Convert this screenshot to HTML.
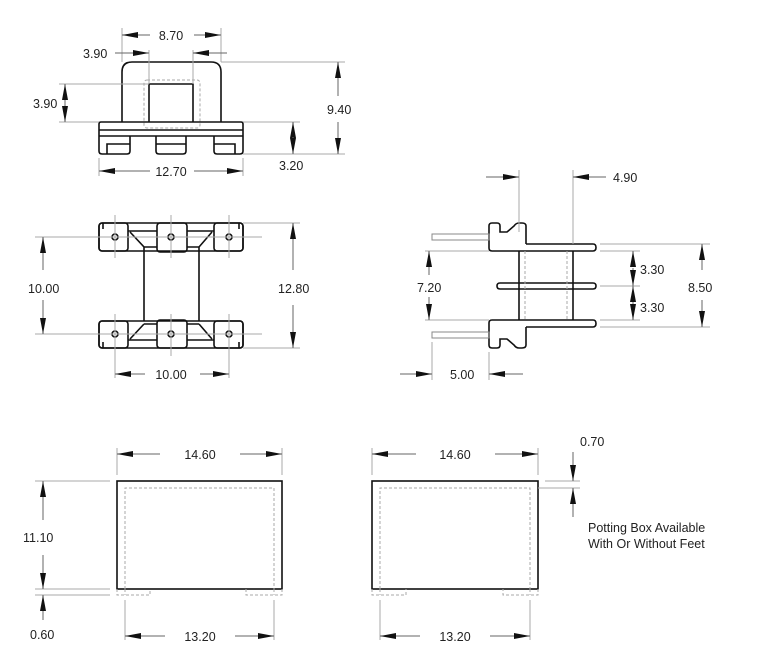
<!DOCTYPE html>
<html><head><meta charset="utf-8"><style>
html,body{margin:0;padding:0;background:#fff;}
svg{display:block;}
text{font-family:"Liberation Sans",sans-serif;font-size:12.5px;fill:#222;}
.d{stroke:#aaa;stroke-width:1;fill:none;}
.a{stroke:#666;stroke-width:1;fill:none;marker-end:url(#ar);}
.o{stroke:#111;stroke-width:1.6;fill:none;}
.h{stroke:#aaa;stroke-width:1;fill:none;stroke-dasharray:3,2;}
</style></head><body>
<svg width="780" height="663" viewBox="0 0 780 663" xmlns="http://www.w3.org/2000/svg">
<defs><marker id="ar" markerUnits="userSpaceOnUse" markerWidth="17" markerHeight="7" refX="16" refY="3" orient="auto"><path d="M0,0 L16,3 L0,6 z" fill="#111"/></marker></defs>

<!-- TOP VIEW -->
<path class="o" d="M122,122 V72 Q122,62 132,62 H211 Q221,62 221,72 V122"/>
<rect class="h" x="144" y="80" width="56" height="48" rx="3"/>
<path class="o" d="M149,122 V84 H193 V122"/>
<path class="o" d="M99,136 V124 Q99,122 101,122 H241 Q243,122 243,124 V136"/>
<line class="o" x1="99" y1="130" x2="243" y2="130"/>
<line class="o" x1="99" y1="136" x2="243" y2="136"/>
<path class="o" d="M99,136 V151 Q99,154 102,154 H127 Q130,154 130,151 V136"/>
<path class="o" d="M107,154 V144 H130"/>
<path class="o" d="M156,136 V151 Q156,154 159,154 H183 Q186,154 186,151 V136 M156,144 H186"/>
<path class="o" d="M214,136 V151 Q214,154 217,154 H240 Q243,154 243,151 V136"/>
<path class="o" d="M214,144 H235 V154"/>
<!-- dims -->
<line class="d" x1="122" y1="28" x2="122" y2="62"/><line class="d" x1="221" y1="28" x2="221" y2="62"/>
<line class="a" x1="150" y1="35" x2="122" y2="35"/><line class="a" x1="194" y1="35" x2="221" y2="35"/>
<text x="171" y="40" text-anchor="middle">8.70</text>
<line class="d" x1="149" y1="50" x2="149" y2="84"/><line class="d" x1="193" y1="50" x2="193" y2="84"/>
<line class="a" x1="115" y1="53" x2="149" y2="53"/><line class="a" x1="227" y1="53" x2="193" y2="53"/>
<text x="83" y="58">3.90</text>
<line class="d" x1="59" y1="84" x2="149" y2="84"/><line class="d" x1="59" y1="122" x2="99" y2="122"/>
<line class="a" x1="65" y1="104" x2="65" y2="84"/><line class="a" x1="65" y1="104" x2="65" y2="122"/>
<text x="33" y="108">3.90</text>
<line class="d" x1="221" y1="62" x2="345" y2="62"/><line class="d" x1="243" y1="154" x2="345" y2="154"/>
<line class="a" x1="338" y1="96" x2="338" y2="62"/><line class="a" x1="338" y1="122" x2="338" y2="154"/>
<text x="327" y="114">9.40</text>
<line class="d" x1="243" y1="122" x2="300" y2="122"/>
<line class="a" x1="293" y1="139" x2="293" y2="122"/><line class="a" x1="293" y1="137" x2="293" y2="154"/>
<text x="279" y="170">3.20</text>
<line class="d" x1="99" y1="158" x2="99" y2="176"/><line class="d" x1="243" y1="158" x2="243" y2="176"/>
<line class="a" x1="150" y1="171" x2="99" y2="171"/><line class="a" x1="194" y1="171" x2="243" y2="171"/>
<text x="171" y="176" text-anchor="middle">12.70</text>

<!-- PLAN VIEW -->
<g>
<rect class="o" x="99" y="223" width="144" height="28" rx="3"/>
<rect class="o" x="99" y="223" width="29" height="28" rx="3"/>
<rect class="o" x="157" y="223" width="30" height="29" rx="3"/>
<rect class="o" x="214" y="223" width="29" height="28" rx="3"/>
<path class="o" d="M128,231 H157 M187,231 H214 M130,232 L144,247 V321 M212,232 L199,247 V321 M144,247 H157 M187,247 H199"/>
<path class="o" d="M103,223 V229 M239,223 V229"/>
<rect class="o" x="99" y="321" width="144" height="27" rx="3"/>
<rect class="o" x="99" y="321" width="29" height="27" rx="3"/>
<rect class="o" x="157" y="320" width="30" height="28" rx="3"/>
<rect class="o" x="214" y="321" width="29" height="27" rx="3"/>
<path class="o" d="M128,340 H157 M187,340 H214 M130,339 L144,324 M212,339 L199,324 M144,324 H157 M187,324 H199"/>
<path class="o" d="M103,348 V342 M239,348 V342"/>
<circle class="o" cx="115" cy="237" r="3"/><circle class="o" cx="171" cy="237" r="3"/><circle class="o" cx="229" cy="237" r="3"/>
<circle class="o" cx="115" cy="334" r="3"/><circle class="o" cx="171" cy="334" r="3"/><circle class="o" cx="229" cy="334" r="3"/>
</g>
<g class="d">
<line x1="115" y1="215" x2="115" y2="258"/><line x1="171" y1="215" x2="171" y2="258"/><line x1="229" y1="215" x2="229" y2="258"/>
<line x1="115" y1="314" x2="115" y2="378"/><line x1="171" y1="314" x2="171" y2="356"/><line x1="229" y1="314" x2="229" y2="378"/>
<line x1="35" y1="237" x2="93" y2="237"/><line x1="80" y1="237" x2="262" y2="237"/>
<line x1="35" y1="334" x2="93" y2="334"/><line x1="80" y1="334" x2="262" y2="334"/>
<line x1="243" y1="223" x2="300" y2="223"/><line x1="243" y1="348" x2="300" y2="348"/>
</g>
<line class="a" x1="43" y1="270" x2="43" y2="237"/><line class="a" x1="43" y1="300" x2="43" y2="334"/>
<text x="28" y="293">10.00</text>
<line class="a" x1="293" y1="270" x2="293" y2="223"/><line class="a" x1="293" y1="305" x2="293" y2="348"/>
<text x="278" y="293">12.80</text>
<line class="a" x1="145" y1="374" x2="115" y2="374"/><line class="a" x1="200" y1="374" x2="229" y2="374"/>
<text x="171" y="379" text-anchor="middle">10.00</text>

<!-- SIDE VIEW -->
<path class="o" d="M526,244 V226 Q526,223 522,223 H519 Q516,223 514,226 L507,232 H500 V226 Q500,223 497,223 H492 Q489,223 489,226 V248 Q489,251 492,251 H519"/>
<path class="o" d="M526,244 H593 Q596,244 596,247.5 Q596,251 593,251 H519"/>
<rect x="432" y="234" width="57" height="6" fill="none" stroke-width="1" stroke="#888"/>
<path class="o" d="M500,283 H593 Q596,283 596,286 Q596,289 593,289 H500 Q497,289 497,286 Q497,283 500,283 Z"/>
<path class="o" d="M526,327 V345 Q526,348 522,348 H519 Q516,348 514,345 L507,339 H500 V345 Q500,348 497,348 H492 Q489,348 489,345 V323 Q489,320 492,320 H519"/>
<path class="o" d="M519,320 H593 Q596,320 596,323.5 Q596,327 593,327 H526"/>
<rect x="432" y="332" width="57" height="6" fill="none" stroke-width="1" stroke="#888"/>
<line class="o" x1="519" y1="251" x2="519" y2="320"/><line class="o" x1="573" y1="251" x2="573" y2="320"/>
<line class="h" x1="525" y1="251" x2="525" y2="320"/><line class="h" x1="567" y1="251" x2="567" y2="320"/>
<g class="d">
<line x1="519" y1="170" x2="519" y2="232"/><line x1="573" y1="170" x2="573" y2="244"/>
<line x1="425" y1="251" x2="489" y2="251"/><line x1="425" y1="320" x2="489" y2="320"/>
<line x1="600" y1="251" x2="640" y2="251"/><line x1="600" y1="286" x2="640" y2="286"/><line x1="600" y1="320" x2="640" y2="320"/>
<line x1="600" y1="244" x2="710" y2="244"/><line x1="600" y1="327" x2="710" y2="327"/>
<line x1="432" y1="342" x2="432" y2="380"/><line x1="489" y1="352" x2="489" y2="380"/>
</g>
<line class="a" x1="486" y1="177" x2="519" y2="177"/><line class="a" x1="606" y1="177" x2="573" y2="177"/>
<text x="613" y="182">4.90</text>
<line class="a" x1="429" y1="275" x2="429" y2="251"/><line class="a" x1="429" y1="297" x2="429" y2="320"/>
<text x="417" y="292">7.20</text>
<line class="a" x1="633" y1="267" x2="633" y2="251"/><line class="a" x1="633" y1="268" x2="633" y2="286"/>
<text x="640" y="274">3.30</text>
<line class="a" x1="633" y1="303" x2="633" y2="286"/><line class="a" x1="633" y1="302" x2="633" y2="320"/>
<text x="640" y="312">3.30</text>
<line class="a" x1="702" y1="270" x2="702" y2="244"/><line class="a" x1="702" y1="300" x2="702" y2="327"/>
<text x="688" y="292">8.50</text>
<line class="a" x1="400" y1="374" x2="432" y2="374"/><line class="a" x1="523" y1="374" x2="489" y2="374"/>
<text x="450" y="379">5.00</text>

<!-- BOTTOM LEFT BOX -->
<rect class="o" x="117" y="481" width="165" height="108"/>
<path class="h" d="M125,589 V488 H274 V589"/>
<path class="h" d="M117,589 V595 H150 V589 M282,589 V595 H246 V589 M125,589 V595 M274,589 V595"/>
<g class="d">
<line x1="117" y1="448" x2="117" y2="475"/><line x1="282" y1="448" x2="282" y2="475"/>
<line x1="35" y1="481" x2="110" y2="481"/><line x1="35" y1="589" x2="110" y2="589"/><line x1="35" y1="595" x2="110" y2="595"/>
<line x1="125" y1="600" x2="125" y2="640"/><line x1="274" y1="600" x2="274" y2="640"/>
</g>
<line class="a" x1="160" y1="454" x2="117" y2="454"/><line class="a" x1="240" y1="454" x2="282" y2="454"/>
<text x="200" y="459" text-anchor="middle">14.60</text>
<line class="a" x1="43" y1="520" x2="43" y2="481"/><line class="a" x1="43" y1="555" x2="43" y2="589"/>
<text x="23" y="542">11.10</text>
<line class="a" x1="43" y1="620" x2="43" y2="595"/>
<text x="30" y="639">0.60</text>
<line class="a" x1="165" y1="636" x2="125" y2="636"/><line class="a" x1="235" y1="636" x2="274" y2="636"/>
<text x="200" y="641" text-anchor="middle">13.20</text>

<!-- BOTTOM RIGHT BOX -->
<rect class="o" x="372" y="481" width="166" height="108"/>
<path class="h" d="M380,589 V488 H530 V589"/>
<path class="h" d="M372,589 V595 H406 V589 M538,589 V595 H503 V589 M380,589 V595 M530,589 V595"/>
<g class="d">
<line x1="372" y1="448" x2="372" y2="475"/><line x1="538" y1="448" x2="538" y2="475"/>
<line x1="545" y1="481" x2="580" y2="481"/><line x1="538" y1="488" x2="580" y2="488"/>
<line x1="380" y1="600" x2="380" y2="640"/><line x1="530" y1="600" x2="530" y2="640"/>
</g>
<line class="a" x1="416" y1="454" x2="372" y2="454"/><line class="a" x1="495" y1="454" x2="538" y2="454"/>
<text x="455" y="459" text-anchor="middle">14.60</text>
<line class="a" x1="573" y1="452" x2="573" y2="481"/><line class="a" x1="573" y1="517" x2="573" y2="488"/>
<text x="580" y="446">0.70</text>
<text x="588" y="532">Potting Box Available</text>
<text x="588" y="548">With Or Without Feet</text>
<line class="a" x1="420" y1="636" x2="380" y2="636"/><line class="a" x1="490" y1="636" x2="530" y2="636"/>
<text x="455" y="641" text-anchor="middle">13.20</text>
</svg>
</body></html>
